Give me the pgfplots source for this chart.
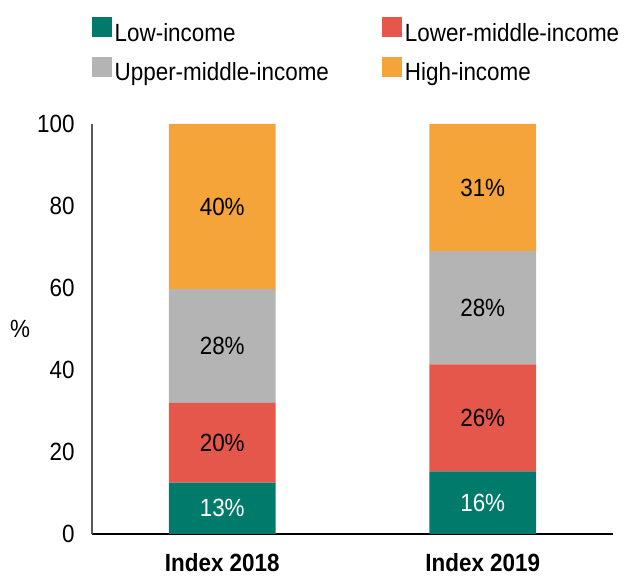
\documentclass[border=0pt]{standalone}
\usepackage{fontspec}
\setmainfont{Liberation Sans}[FakeStretch=0.9]
\usepackage{pgfplots}
\usepackage{pgfplotstable}
\pgfplotsset{compat=1.18}
\definecolor{cLow}{HTML}{007B6B}
\definecolor{cLM}{HTML}{E4574A}
\definecolor{cUM}{HTML}{B4B4B4}
\definecolor{cHigh}{HTML}{F5A43A}
\pgfplotstableread{
x v lab
0 12.5 13
1 15.3 16
}\tlow
\pgfplotstableread{
x v lab
0 19.5 20
1 26.1 26
}\tlm
\pgfplotstableread{
x v lab
0 27.7 28
1 27.6 28
}\tum
\pgfplotstableread{
x v lab
0 40.3 40
1 31.0 31
}\thigh
\begin{document}
\fontsize{25}{30}\selectfont
\begin{tikzpicture}
\begin{axis}[
  scale only axis, width=521bp, height=410bp,
  font=\fontsize{25}{30}\selectfont,
  ybar stacked, bar width=0.41,
  xmin=-0.5, xmax=1.5, ymin=0, ymax=100,
  xtick={0,1}, xticklabels={\textbf{Index 2018},\textbf{Index 2019}},
  ytick={0,20,40,60,80,100},
  /pgf/number format/assume math mode=true,
  axis lines*=left,
  axis x line*=bottom,
  x axis line style={black, line width=1.3bp},
  y axis line style={black!65, line width=1.3bp},
  major tick length=0pt,
  yticklabel style={xshift=-9bp},
  xticklabel style={yshift=-11bp},
  ylabel={\%},
  every axis y label/.style={at={(rel axis cs:0,0.5)}, anchor=center, xshift=-72bp},
  point meta=explicit symbolic,
  nodes near coords={\pgfplotspointmeta\%},
  every node near coord/.append style={anchor=center, font=\fontsize{25}{30}\selectfont},
  legend columns=2,
  legend cell align=left,
  legend style={draw=none, fill=none, inner sep=0pt, at={(rel axis cs:0,1)}, anchor=north west, yshift=107bp,
    font=\fontsize{25}{30}\selectfont, row sep=9bp,
    nodes={inner sep=2.5bp},
    /tikz/every even column/.append style={column sep=51bp}},
  legend image code/.code={\fill[#1] (0bp,-3bp) rectangle (20bp,17bp);},
]
\addplot[fill=cLow, draw=none, every node near coord/.append style={text=white}] table[x=x, y=v, meta=lab] {\tlow};
\addplot[fill=cLM, draw=none] table[x=x, y=v, meta=lab] {\tlm};
\addplot[fill=cUM, draw=none] table[x=x, y=v, meta=lab] {\tum};
\addplot[fill=cHigh, draw=none] table[x=x, y=v, meta=lab] {\thigh};
\legend{Low-income, Lower-middle-income, Upper-middle-income, High-income}
\end{axis}
\pgfresetboundingbox
\path (-92bp,-45bp) rectangle (535bp,534bp);
\end{tikzpicture}
\end{document}
